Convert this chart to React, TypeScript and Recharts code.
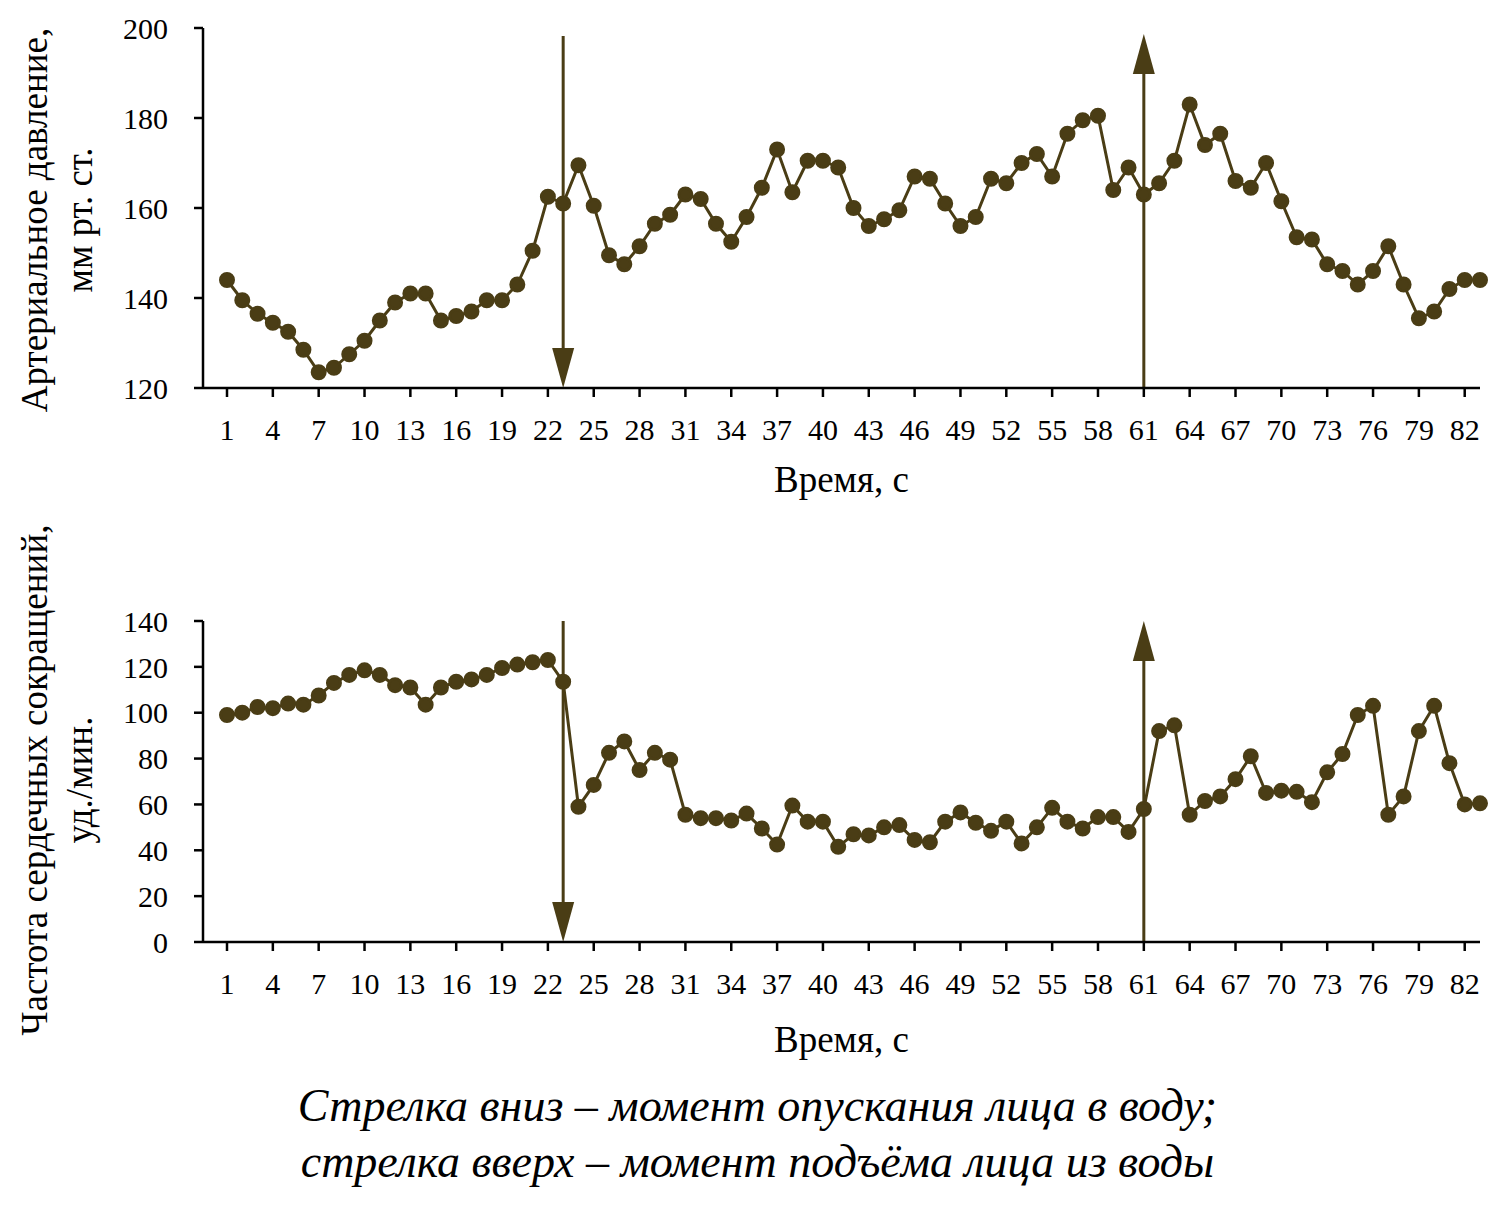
import React from "react";
import { LineChart, Line, XAxis, YAxis, ReferenceLine } from "recharts";

const seconds = Array.from({ length: 83 }, (_, i) => i + 1);

const pressure = [
  144, 139.5, 136.5, 134.5, 132.5, 128.5, 123.5, 124.5, 127.5, 130.5, 135, 139, 141, 141, 135, 136, 137, 139.5, 139.5, 143,
  150.5, 162.5, 161, 169.5, 160.5, 149.5, 147.5, 151.5, 156.5, 158.5, 163, 162, 156.5, 152.5, 158, 164.5, 173, 163.5, 170.5,
  170.5, 169, 160, 156, 157.5, 159.5, 167, 166.5, 161, 156, 158, 166.5, 165.5, 170, 172, 167, 176.5, 179.5, 180.5, 164, 169,
  163, 165.5, 170.5, 183, 174, 176.5, 166, 164.5, 170, 161.5, 153.5, 153, 147.5, 146, 143, 146, 151.5, 143, 135.5, 137, 142,
  144, 144,
];

const heartRate = [
  99, 100, 102.5, 102, 104, 103.5, 107.5, 113, 116.5, 118.5, 116.5, 112, 111, 103.5, 111, 113.5, 114.5, 116.5, 119.5, 121,
  122, 123, 113.5, 59, 68.5, 82.5, 87.5, 75, 82.5, 79.5, 55.5, 54, 54, 53, 56, 49.5, 42.5, 59.5, 52.5, 52.5, 41.5, 47, 46.5,
  50, 51, 44.5, 43.5, 52.5, 56.5, 52, 48.5, 52.5, 43, 50, 58.5, 52.5, 49.5, 54.5, 54.5, 48, 58, 92, 94.5, 55.5, 61.5, 63.5,
  71, 81, 65, 66, 65.5, 61, 74, 82, 99, 103, 55.5, 63.5, 92, 103, 78, 60, 60.5,
];

const pressureTicks = [120, 140, 160, 180, 200];
const heartTicks = [0, 20, 40, 60, 80, 100, 120, 140];
const faceDown = 23;
const faceUp = 61;

const topData = seconds.map((s, i) => ({ s, v: pressure[i] }));
const bottomData = seconds.map((s, i) => ({ s, v: heartRate[i] }));

const INK = "#4a3d15";
const FONT = "'Liberation Serif', 'DejaVu Serif', serif";
const tick = { fill: "#000", fontSize: 30, fontFamily: FONT };

const arrow = (dir: "down" | "up", gap: number) => (p: any) => {
  const x = p.x1;
  const top = Math.min(p.y1, p.y2) + gap;
  const bot = Math.max(p.y1, p.y2);
  const tip = dir === "down" ? bot : top;
  const base = dir === "down" ? bot - 40 : top + 40;
  const start = dir === "down" ? top : bot;
  return (
    <g>
      <line x1={x} x2={x} y1={start} y2={base} stroke={INK} strokeWidth={3} />
      <polygon points={`${x - 11},${base} ${x + 11},${base} ${x},${tip}`} fill={INK} />
    </g>
  );
};

function Panel(props: {
  data: { s: number; v: number }[];
  domain: [number, number];
  ticks: number[];
  top: number;
  marginTop: number;
  axisHeight: number;
  upGap: number;
  downGap: number;
  label1: string;
  label2: string;
  labelY: number;
  titleOffset: number;
}) {
  return (
    <div style={{ position: "absolute", left: 0, top: props.top, width: 1500, height: 510 }}>
      <div
        style={{
          position: "absolute",
          left: 57 - 300,
          top: props.labelY,
          width: 600,
          height: 90,
          textAlign: "center",
          transform: "rotate(-90deg)",
          fontFamily: FONT,
          fontSize: 37,
          lineHeight: "45px",
        }}
      >
        {props.label1}
        <br />
        {props.label2}
      </div>
      <LineChart width={1500} height={510} data={props.data} margin={{ top: props.marginTop, right: 20, left: 0, bottom: 0 }}>
        <XAxis
          dataKey="s"
          interval={2}
          tick={tick}
          tickSize={9}
          tickMargin={22}
          height={props.axisHeight}
          padding={{ left: 24, right: 0 }}
          stroke="#000"
          strokeWidth={2.5}
          label={{ value: "Время, с", position: "insideBottom", offset: props.titleOffset, fontSize: 37, fontFamily: FONT, fill: "#000" }}
        />
        <YAxis
          domain={props.domain}
          ticks={props.ticks}
          width={203}
          tick={tick}
          tickSize={9}
          tickMargin={26}
          stroke="#000"
          strokeWidth={2.5}
          allowDataOverflow
        />
        <ReferenceLine x={faceDown} stroke={INK} shape={arrow("down", props.downGap)} />
        <ReferenceLine x={faceUp} stroke={INK} shape={arrow("up", props.upGap)} />
        <Line
          dataKey="v"
          stroke={INK}
          strokeWidth={3}
          dot={{ r: 6.5, fill: INK, stroke: INK }}
          isAnimationActive={false}
        />
      </LineChart>
    </div>
  );
}

export default function App() {
  return (
    <div style={{ position: "absolute", left: 0, top: 0, width: 1500, height: 1208, background: "#fff", fontFamily: FONT }}>
      <Panel
        data={topData}
        domain={[120, 200]}
        ticks={pressureTicks}
        top={0}
        marginTop={28}
        axisHeight={122}
        downGap={8}
        upGap={6}
        label1="Артериальное давление,"
        label2="мм рт. ст."
        labelY={175}
        titleOffset={18}
      />
      <Panel
        data={bottomData}
        domain={[0, 140]}
        ticks={heartTicks}
        top={560}
        marginTop={61}
        axisHeight={128}
        downGap={0}
        upGap={0}
        label1="Частота сердечных сокращений,"
        label2="уд./мин."
        labelY={175}
        titleOffset={18}
      />
      <div
        style={{
          position: "absolute",
          left: 0,
          top: 1078,
          width: 1515,
          textAlign: "center",
          fontStyle: "italic",
          fontSize: 46,
          lineHeight: "56px",
        }}
      >
        Стрелка вниз – момент опускания лица в воду;
        <br />
        стрелка вверх – момент подъёма лица из воды
      </div>
    </div>
  );
}
